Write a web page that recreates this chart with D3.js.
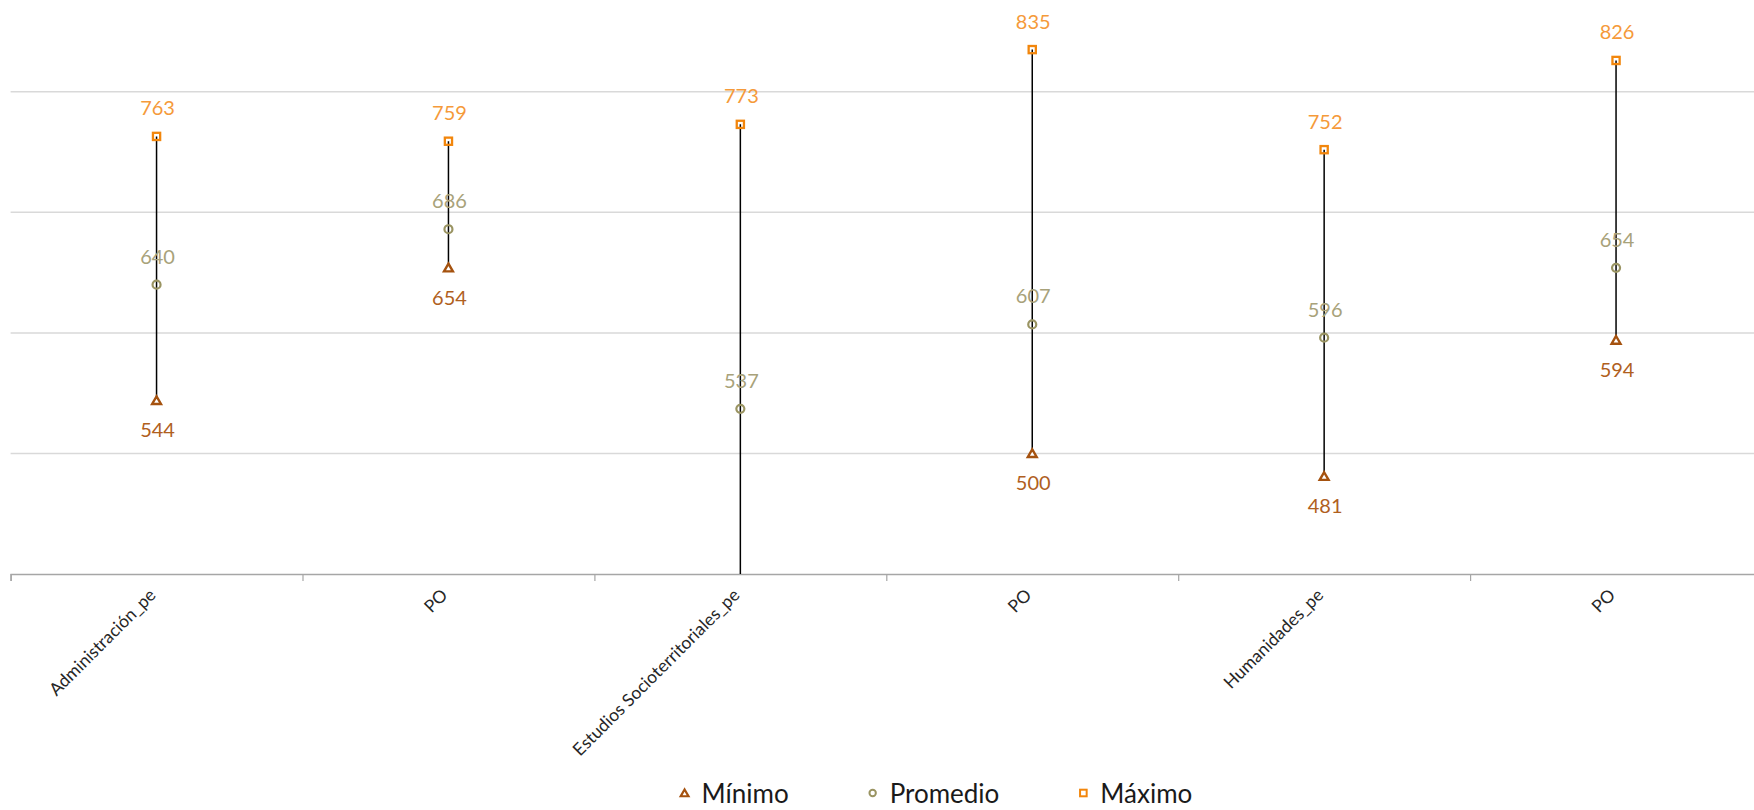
<!DOCTYPE html>
<html>
<head>
<meta charset="utf-8">
<script src="https://cdn.jsdelivr.net/npm/d3@7/dist/d3.min.js"></script>
<style>
  body { margin: 0; background: #fff; }
  svg { display: block; }
  text { font-family: Lato, "Open Sans", sans-serif; }
</style>
</head>
<body>
<svg id="chart" width="1754" height="810"></svg>
<script>
// ---- data ----
const categories = ["Administración_pe", "PO", "Estudios Socioterritoriales_pe", "PO", "Humanidades_pe", "PO"];
const minimo   = [544, 654, 0, 500, 481, 594];   // 3rd minimum falls below the visible axis (not readable)
const promedio = [640, 686, 537, 607, 596, 654];
const maximo   = [763, 759, 773, 835, 752, 826];
const gridTicks = [500, 600, 700, 800];
const seriesNames = ["Mínimo", "Promedio", "Máximo"];

// ---- styles ----
const C = {
  minMark: "#A5520F", minLabel: "#B0601E",
  avgMark: "#9A9462", avgLabel: "#A8A27A",
  maxMark: "#F2860C", maxLabel: "#F59A3A",
  grid: "#D9D9D9", axis: "#A6A6A6"
};

const svg = d3.select("#chart");
svg.append("rect").attr("width", 1754).attr("height", 810).attr("fill", "#fff");

const plotLeft = 10.6, plotRight = 1762, plotBottom = 574;
const x = d3.scaleBand().domain(d3.range(categories.length)).range([plotLeft, plotRight]).padding(0);
const y = d3.scaleLinear().domain([400, 800]).range([plotBottom, 91.8]);
const cx = i => x(i) + x.bandwidth() / 2;

svg.append("defs").append("clipPath").attr("id", "plotClip")
  .append("rect").attr("x", plotLeft).attr("y", -200).attr("width", plotRight - plotLeft).attr("height", plotBottom + 200);

// gridlines
svg.append("g").selectAll("line").data(gridTicks).join("line")
  .attr("x1", plotLeft).attr("x2", plotRight)
  .attr("y1", d => y(d)).attr("y2", d => y(d))
  .attr("stroke", C.grid).attr("stroke-width", 1.5);

// category axis
const xAxis = d3.axisBottom(d3.scaleLinear().domain([0, categories.length]).range([plotLeft, plotRight]))
  .tickValues(d3.range(categories.length + 1)).tickSize(7).tickFormat("");
const ax = svg.append("g").attr("transform", `translate(0,${plotBottom})`).call(xAxis);
ax.select(".domain").attr("stroke", C.axis).attr("stroke-width", 1.5);
ax.selectAll(".tick line").attr("stroke", C.axis).attr("stroke-width", 1.2);

// category labels (rotated)
svg.append("g").selectAll("text").data(categories).join("text")
  .attr("transform", (d, i) => `translate(${cx(i) - 4},${plotBottom + 18}) rotate(-45)`)
  .attr("text-anchor", "end")
  .attr("dy", "0.35em")
  .attr("font-size", 17.5)
  .attr("fill", "#262626")
  .text(d => d);

const plot = svg.append("g").attr("clip-path", "url(#plotClip)");

// high-low lines
plot.append("g").selectAll("line").data(categories).join("line")
  .attr("x1", (d, i) => cx(i)).attr("x2", (d, i) => cx(i))
  .attr("y1", (d, i) => y(maximo[i])).attr("y2", (d, i) => y(minimo[i]))
  .attr("stroke", "#000").attr("stroke-width", 1.5);

// markers
const tri = d3.symbol().type(d3.symbolTriangle).size(34);
plot.append("g").selectAll("path").data(minimo).join("path")
  .attr("d", tri).attr("transform", (d, i) => `translate(${cx(i)},${y(d) + 1})`)
  .attr("fill", "#fff").attr("stroke", C.minMark).attr("stroke-width", 2.4);

plot.append("g").selectAll("circle").data(promedio).join("circle")
  .attr("cx", (d, i) => cx(i)).attr("cy", d => y(d)).attr("r", 4)
  .attr("fill", "none").attr("stroke", C.avgMark).attr("stroke-width", 2.2);

plot.append("g").selectAll("rect").data(maximo).join("rect")
  .attr("x", (d, i) => cx(i) - 3.6).attr("y", d => y(d) - 3.6)
  .attr("width", 7.2).attr("height", 7.2)
  .attr("fill", "none").attr("stroke", C.maxMark).attr("stroke-width", 2.3);

// data labels
const lab = (data, color, off) => plot.append("g").selectAll("text").data(data).join("text")
  .attr("x", (d, i) => cx(i) + 1).attr("y", d => y(d) + off)
  .attr("text-anchor", "middle").attr("dominant-baseline", "central")
  .attr("font-size", 20).attr("fill", color).text(d => d);
lab(maximo, C.maxLabel, -29);
lab(promedio, C.avgLabel, -29);
lab(minimo, C.minLabel, 29);

// legend
const legend = svg.append("g");
const legColors = [C.minMark, C.avgMark, C.maxMark];
let lx = 684.6;
const ly = 793;
seriesNames.forEach((name, k) => {
  if (k === 0) {
    legend.append("path").attr("d", d3.symbol().type(d3.symbolTriangle).size(26)())
      .attr("transform", `translate(${lx},${ly + 1})`)
      .attr("fill", "#fff").attr("stroke", legColors[k]).attr("stroke-width", 2.2);
  } else if (k === 1) {
    legend.append("circle").attr("cx", lx).attr("cy", ly).attr("r", 3.2)
      .attr("fill", "#fff").attr("stroke", legColors[k]).attr("stroke-width", 2);
  } else {
    legend.append("rect").attr("x", lx - 3.3).attr("y", ly - 3.3).attr("width", 6.6).attr("height", 6.6)
      .attr("fill", "#fff").attr("stroke", legColors[k]).attr("stroke-width", 2);
  }
  const t = legend.append("text").attr("x", lx + 17).attr("y", ly).attr("dominant-baseline", "central")
    .attr("font-size", 26).attr("fill", "#1a1a1a").text(name);
  const w = t.node().getComputedTextLength();
  lx = lx + 17 + w + 84;
});
</script>
</body>
</html>
